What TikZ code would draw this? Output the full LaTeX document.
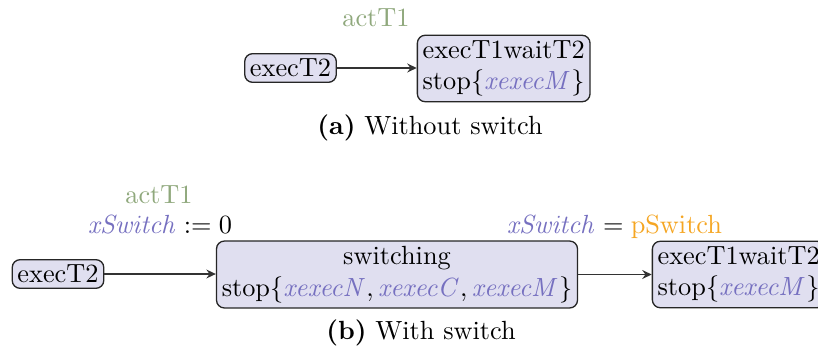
\documentclass[tikz,border=0pt]{standalone}
\usetikzlibrary{arrows.meta}
\definecolor{purp}{RGB}{118,112,192}
\definecolor{boxfill}{RGB}{224,223,240}
\definecolor{grn}{RGB}{143,168,124}
\definecolor{orng}{RGB}{245,166,35}
\newcommand{\pv}[1]{{\color{purp}\mathit{#1}}}
\tikzset{
  state/.style={draw=black!85, fill=boxfill, rounded corners=3pt, line width=0.5pt, inner sep=2pt},
  trans/.style={draw=black!80, line width=0.45pt, -{Stealth[length=3.6pt,width=3.4pt,inset=1.2pt]}},
  lbl/.style={anchor=base, inner sep=0pt},
}
\begin{document}
\begin{tikzpicture}[x=0.3802pt, y=-0.3802pt]
\useasboundingbox (0,0) rectangle (818,352);
% (a)
\node[state] (a1) at (290.5,68) {execT2};
\node[state, align=left] (a2) at (503.7,68.5) {execT1waitT2\\stop$\{\pv{xexecM}\}$};
\draw[trans] (a1.east) -- (a1.east -| a2.west);
\node[lbl, text=grn] (a3) at (376,27) {actT1};
\node[lbl] (acap) at (430,135) {\textbf{(a)} Without switch};
% (b)
\node[state] (b1) at (58,274) {execT2};
\node[state, align=center] (b2) at (397,274.5) {switching\\stop$\{\pv{xexecN}, \pv{xexecC}, \pv{xexecM}\}$};
\node[state, align=left, anchor=west] (b3) at (651.7,274.5) {execT1waitT2\\stop$\{\pv{xexecM}\}$};
\draw[trans] (b1.east) -- (b1.east -| b2.west);
\draw[trans] (b2.east) -- (b2.east -| b3.west);
\node[lbl, text=grn] (b4) at (159,203) {actT1};
\node[lbl] (b5) at (160,233) {$\pv{xSwitch} := 0$};
\node[lbl] (b6) at (614.5,233) {$\pv{xSwitch} = \textcolor{orng}{\mathrm{pSwitch}}$};
\node[lbl] (bcap) at (421,339) {\textbf{(b)} With switch};
\end{tikzpicture}
\end{document}
